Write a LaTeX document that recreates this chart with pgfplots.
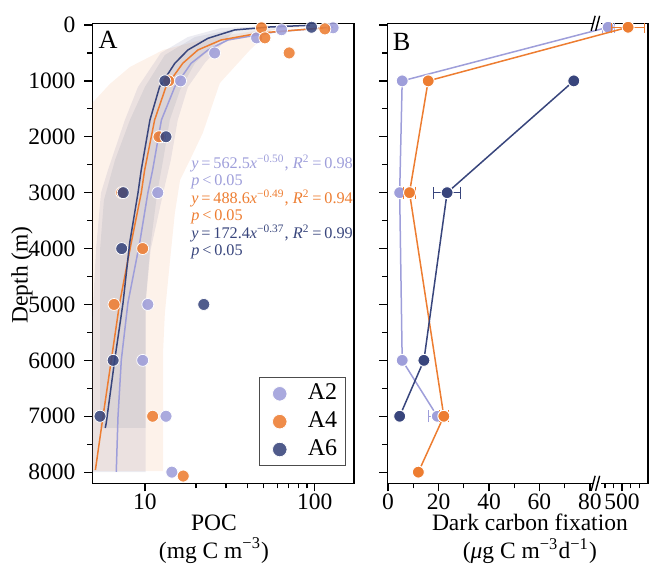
\documentclass[border=0pt]{standalone}
\usepackage{fontspec}
\setmainfont{Liberation Serif}
\usepackage{pgfplots}
\pgfplotsset{compat=1.18}
\usetikzlibrary{calc}
\definecolor{cAtwo}{RGB}{158,158,218}
\definecolor{cAfour}{RGB}{237,125,49}
\definecolor{cAsix}{RGB}{56,69,124}

\pgfplotsset{
  depthaxis/.style={
    scale only axis, height=184pt,
    y dir=reverse, ymin=-30, ymax=8200,
    ytick={0,1000,...,8000}, minor ytick={500,1500,...,7500},
    scaled ticks=false, clip mode=individual,
    tick align=outside, tick pos=left,
    major tick length=3.2pt, minor tick length=2pt,
    every tick/.style={black, line width=0.5pt},
    axis line style={line width=0.6pt},
    tick label style={font=\fontsize{9.4}{11}\selectfont},
    xticklabel style={yshift=2.6pt},
    /pgf/number format/assume math mode=true,
    /pgf/number format/1000 sep={},
    label style={font=\fontsize{9.4}{11.2}\selectfont, align=center},
  },
  dots/.style={only marks, mark=*, mark size=2.4pt,
    mark options={fill=#1, draw=white, line width=0.3pt, fill opacity=0.88}},
  serie/.style={color=#1, line width=0.6pt, mark=*, mark size=2.4pt,
    mark options={fill=#1, draw=white, line width=0.4pt, solid},
    error bars/.cd, x dir=both, x explicit,
    error bar style={line width=0.5pt, #1}},
}
\newcommand{\eqs}{\hspace{0.17em}=\hspace{0.17em}}
\newcommand{\lts}{\hspace{0.17em}<\hspace{0.17em}}

\begin{document}
\begin{tikzpicture}
\path[use as bounding box] (0,0) rectangle (259.6pt,-228pt);

% ---------- panel A : POC ----------
\begin{axis}[depthaxis,
  at={(36.92pt,-193.32pt)}, anchor=south west, width=104.68pt,
  xmode=log, xmin=4.9, xmax=170,
  xtick={10,100}, xticklabels={10,100},
  ylabel={Depth (m)},
  ylabel style={at={(axis description cs:-0.269,0.453)}, anchor=center},
  xlabel={POC\\(mg C m\textsuperscript{−3})},
  xlabel style={at={(axis description cs:0.465,-0.121)}, anchor=center},
  legend style={at={(axis description cs:0.968,0.038)}, anchor=south east,
    draw=black!70, line width=0.4pt, font=\fontsize{9.6}{11}\selectfont,
    row sep=0pt, inner xsep=0pt, inner ysep=0.75pt,
    nodes={inner xsep=3.2pt, inner ysep=1.65pt}},
  legend image code/.code={\path (0cm,0cm) (0.55cm,0cm);
    \draw[#1, mark size=2.9pt] plot coordinates {(0.275cm,0cm)};},
  legend cell align=left,
]
% confidence bands
\addplot[forget plot, fill=cAfour, fill opacity=0.1, draw=none] coordinates {
  (4.9,7980) (4.9,1395) (6.22,1055) (8.16,751) (12.8,447) (25.1,215) (49.4,89) (107,18)
  (71.3,36) (54.3,107) (41.5,447) (27.6,1038) (21.9,1932) (18.4,2415) (16.1,2773)
  (15.0,3363) (14.0,4258) (13.1,5152) (12.8,5814) (12.8,7980)} -- cycle;
\addplot[forget plot, fill=cAtwo!55!gray, fill opacity=0.17, draw=none] coordinates {
  (4.9,8000) (4.9,5280) (5.15,4025) (5.51,3006) (6.06,2594) (7.62,1700) (9.10,1109)
  (12.4,501) (17.9,215) (28.0,54) (81.6,0) (33.8,89) (22.5,680) (17.9,1109) (15.6,1700)
  (14.2,2415) (12.8,3006) (10.8,4025) (10.1,4973) (10.1,8000)} -- cycle;
\addplot[forget plot, fill=cAsix!60!gray, fill opacity=0.1, draw=none] coordinates {
  (5.44,7210) (5.44,4025) (5.74,3131) (6.67,2415) (8.16,1700) (10,1109) (13.1,537)
  (19.7,215) (36.2,54) (81.6,0) (27.6,268) (19.7,680) (16.1,1163) (14.0,1700)
  (12.8,2415) (11.8,3006) (10.7,4025) (10.1,4920) (10.1,7210)} -- cycle;

% fitted power-law curves
\addplot[forget plot, cAtwo, line width=0.6pt] coordinates {
  (128,36) (58.2,125) (30.8,268) (23.5,447) (18.7,685) (15.0,1104) (12.5,1700)
  (11.1,2594) (10.4,3006) (9.31,3900) (7.94,4973) (7.26,5993) (6.94,7013) (6.78,7997)};
\addplot[forget plot, cAfour, line width=0.6pt] coordinates {
  (111,54) (47.5,143) (28.1,268) (20.5,447) (16.7,685) (13.3,1104) (11.4,1700)
  (9.96,2594) (9.51,3006) (8.30,3900) (7.10,4973) (6.34,5993) (5.66,7013) (5.11,7961)};
\addplot[forget plot, cAsix, line width=0.6pt] coordinates {
  (93.5,5) (54.3,36) (33.7,89) (23.5,238) (17.9,447) (15.0,685) (12.2,1104) (10.7,1700)
  (9.51,2594) (9.10,3006) (8.13,3900) (7.43,4973) (6.64,5993) (5.92,7120) (5.84,7210)};

% observations
\addplot[dots=cAtwo] coordinates {
  (128,50) (63.7,85) (45.4,230) (25.7,500) (16.2,1000) (12.4,2000) (11.9,3000)
  (10.4,5000) (9.7,6000) (13.3,7000) (14.4,8000)};
\addlegendentry{A2}
\addplot[dots=cAfour] coordinates {
  (48.5,50) (114.5,70) (50.8,230) (70.6,500) (13.8,1000) (12.1,2000) (7.3,3000)
  (9.7,4000) (6.58,5000) (11.1,7000) (16.8,8070)};
\addlegendentry{A4}
\addplot[dots=cAsix] coordinates {
  (95.6,40) (13.1,1000) (13.3,2000) (7.45,3000) (7.3,4000) (22.2,5000) (6.5,6000)
  (5.44,7000)};
\addlegendentry{A6}

\node[anchor=north west, inner sep=0pt, font=\fontsize{10.5}{12}\selectfont]
  at (axis description cs:0.022,0.983) {A};
\node[anchor=north west, inner sep=0pt, align=left, font=\fontsize{6.5}{7.0}\selectfont]
  at (axis description cs:0.377,0.716) {%
  {\color{cAtwo}\textit{y}\eqs 562.5\textit{x}\textsuperscript{−0.50}, \textit{R}\textsuperscript{2}\eqs 0.98}\\
  {\color{cAtwo}\textit{p}\lts 0.05}\\
  {\color{cAfour}\textit{y}\eqs 488.6\textit{x}\textsuperscript{−0.49}, \textit{R}\textsuperscript{2}\eqs 0.94}\\
  {\color{cAfour}\textit{p}\lts 0.05}\\
  {\color{cAsix}\textit{y}\eqs 172.4\textit{x}\textsuperscript{−0.37}, \textit{R}\textsuperscript{2}\eqs 0.99}\\
  {\color{cAsix}\textit{p}\lts 0.05}};
\end{axis}

% ---------- panel B : dark carbon fixation (broken x axis, 500 part squeezed) ----------
\begin{axis}[depthaxis,
  at={(154.92pt,-193.32pt)}, anchor=south west, width=104.28pt,
  xmin=-0.3, xmax=103,
  xtick={0,20,40,60,80,92.7}, xticklabels={0,20,40,60,80,500},
  minor xtick={10,30,50,70,86.0,89.4,96.2,99.6},
  yticklabels={},
  xlabel={Dark carbon fixation\\(\textit{μ}g C m\textsuperscript{−3}d\textsuperscript{−1})},
  xlabel style={at={(axis description cs:0.547,-0.121)}, anchor=center},
]
\addplot[serie=cAtwo] coordinates {
  (87.2,40) +- (2.4,0) (5.6,1000) +- (0,0) (4.6,3000) +- (0,0) (5.6,6000) +- (0,0)
  (19.5,7000) +- (3.3,0)};
\addplot[serie=cAfour] coordinates {
  (95.1,40) +- (6.4,0) (15.9,1000) +- (0,0) (8.5,3000) +- (2.5,0) (22.1,7000) +- (1.9,0)
  (12.0,8000) +- (0,0)};
\addplot[serie=cAsix] coordinates {
  (73.6,1000) +- (0,0) (23.4,3000) +- (5.5,0) (14.2,6000) +- (0,0) (4.6,7000) +- (0,0)};

\node[anchor=north west, inner sep=0pt, font=\fontsize{10.5}{12}\selectfont]
  at (axis description cs:0.019,0.98) {B};
% axis break marks
\fill[white] ($(axis description cs:0.804,1)+(-1.6pt,-0.8pt)$) rectangle ($(axis description cs:0.804,1)+(1.6pt,0.8pt)$);
\draw[line width=0.55pt] ($(axis description cs:0.804,1)+(-2.3pt,-3pt)$) -- ++(1.6pt,6pt);
\draw[line width=0.55pt] ($(axis description cs:0.804,1)+(-0.5pt,-3pt)$) -- ++(1.6pt,6pt);
\fill[white] ($(axis description cs:0.804,0)+(-1.6pt,-0.8pt)$) rectangle ($(axis description cs:0.804,0)+(1.6pt,0.8pt)$);
\draw[line width=0.55pt] ($(axis description cs:0.804,0)+(-2.3pt,-3pt)$) -- ++(1.6pt,6pt);
\draw[line width=0.55pt] ($(axis description cs:0.804,0)+(-0.5pt,-3pt)$) -- ++(1.6pt,6pt);
\end{axis}
\end{tikzpicture}
\end{document}
